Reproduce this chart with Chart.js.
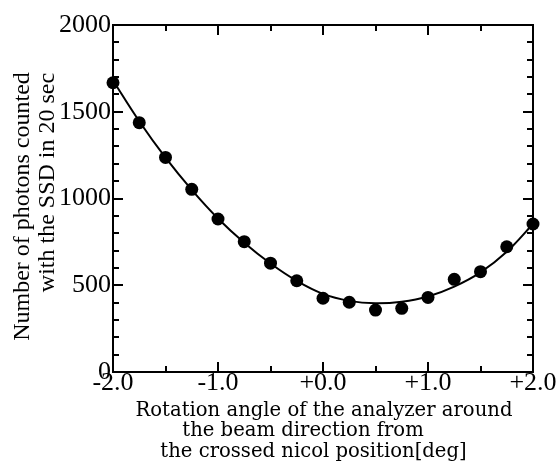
<!DOCTYPE html>
<html>
<head>
<meta charset="utf-8">
<title>Photon counts vs analyzer angle</title>
<script src="https://cdn.jsdelivr.net/npm/chart.js@4.4.1/dist/chart.umd.min.js"></script>
<style>
html,body{margin:0;padding:0;background:#fff}
#wrap{width:558px;height:471px;position:relative}
</style>
</head>
<body>
<div id="wrap"><canvas id="c" width="558" height="471"></canvas></div>
<script>
// measured points: analyzer angle [deg] vs counts in 20 sec
const angles=[-2.0,-1.75,-1.5,-1.25,-1.0,-0.75,-0.5,-0.25,0.0,0.25,0.5,0.75,1.0,1.25,1.5,1.75,2.0];
const counts=[1667,1437,1237,1053,882,751,627,526,425,402,357,367,430,534,578,722,853];
// fitted curve, sampled at the same angles
const fitCounts=[1680,1445,1235,1050,885,745,625,525,450,410,396,405,435,492,574,693,853];

const xTickVals=[-2,-1,0,1,2];
const yTickVals=[0,500,1000,1500,2000];
const xTitle=['Rotation angle of the analyzer around','the beam direction from','the crossed nicol position[deg]'];
const yTitle=['Number of photons counted','with the SSD in 20 sec'];

function fmtAngle(v){
  if(v>0) return '+'+v.toFixed(1);
  if(v===0) return '+0.0';
  return v.toFixed(1);
}

// frame on top/right + inward tick marks on all four sides
const frameTicks={
  id:'frameTicks',
  afterDatasetsDraw(chart){
    const {ctx,chartArea:a,scales:{x,y}}=chart;
    ctx.save();
    ctx.strokeStyle='#000';ctx.lineWidth=2;ctx.lineCap='butt';
    ctx.beginPath();
    ctx.moveTo(a.left,a.top);ctx.lineTo(a.right,a.top);ctx.lineTo(a.right,a.bottom);
    ctx.stroke();
    ctx.beginPath();
    for(let v=-2;v<=2.001;v+=0.5){
      const px=Math.round(x.getPixelForValue(v));
      const len=Math.abs(v-Math.round(v))<1e-6?10:6;
      ctx.moveTo(px,a.bottom);ctx.lineTo(px,a.bottom-len);
      ctx.moveTo(px,a.top);ctx.lineTo(px,a.top+len);
    }
    for(let v=0;v<=2000;v+=100){
      const py=Math.round(y.getPixelForValue(v));
      const len=v%500===0?10:6;
      ctx.moveTo(a.left,py);ctx.lineTo(a.left+len,py);
      ctx.moveTo(a.right,py);ctx.lineTo(a.right-len,py);
    }
    ctx.stroke();
    ctx.restore();
  },
  afterDraw(chart){
    const {ctx,chartArea:a}=chart;
    const cx=(a.left+a.right)/2;
    ctx.save();
    ctx.fillStyle='#000';
    // x axis title, three lines
    ctx.font='19.6px "DejaVu Serif", serif';
    ctx.textAlign='center';ctx.textBaseline='alphabetic';
    const xShift=[1,-20,-9.5];
    xTitle.forEach((t,i)=>ctx.fillText(t,cx+xShift[i],a.bottom+43.5+i*20.5));
    // y axis title, rotated
    ctx.font='24px "Liberation Serif", "Times New Roman", serif';
    const yPos=[[28.5,206.5],[53.5,182.5]];
    yTitle.forEach((t,i)=>{
      ctx.save();
      ctx.translate(yPos[i][0],yPos[i][1]);
      ctx.rotate(-Math.PI/2);
      ctx.fillText(t,0,0);
      ctx.restore();
    });
    ctx.restore();
  }
};

new Chart(document.getElementById('c'),{
  type:'scatter',
  data:{
    datasets:[
      {
        label:'fit',
        data:angles.map((a,i)=>({x:a,y:fitCounts[i]})),
        showLine:true,
        borderColor:'#000',
        borderWidth:2,
        pointRadius:0,
        tension:0.4,
        fill:false,
        clip:false
      },
      {
        label:'counts',
        data:angles.map((a,i)=>({x:a,y:counts[i]})),
        showLine:false,
        backgroundColor:'#000',
        borderColor:'#000',
        pointRadius:6.5,
        pointBorderWidth:0,
        clip:false
      }
    ]
  },
  options:{
    responsive:false,
    animation:false,
    devicePixelRatio:1,
    layout:{padding:{left:0,right:25,top:25,bottom:0}},
    plugins:{legend:{display:false},tooltip:{enabled:false}},
    scales:{
      x:{
        type:'linear',min:-2,max:2,
        afterBuildTicks:s=>{s.ticks=xTickVals.map(v=>({value:v}));},
        afterFit:s=>{s.height=99;},
        grid:{display:false,drawTicks:false},
        border:{display:true,color:'#000',width:2},
        ticks:{color:'#000',font:{family:'"Liberation Serif", serif',size:26},padding:-4,callback:v=>fmtAngle(v),maxRotation:0,autoSkip:false}
      },
      y:{
        type:'linear',min:0,max:2000,
        afterBuildTicks:s=>{s.ticks=yTickVals.map(v=>({value:v}));},
        afterFit:s=>{s.width=113;},
        grid:{display:false,drawTicks:false},
        border:{display:true,color:'#000',width:2},
        ticks:{color:'#000',font:{family:'"Liberation Serif", serif',size:26},padding:2,callback:v=>String(v),autoSkip:false}
      }
    }
  },
  plugins:[frameTicks]
});
</script>
</body>
</html>
